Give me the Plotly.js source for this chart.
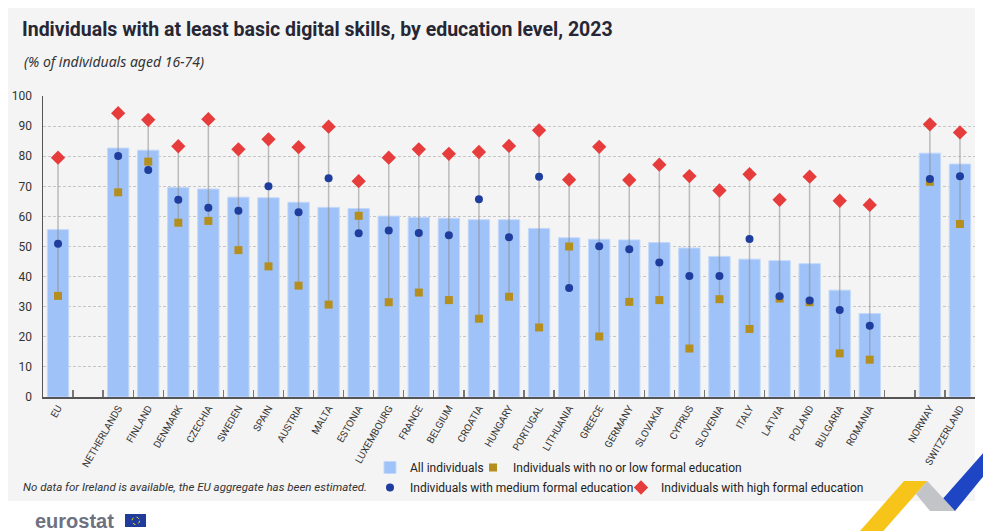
<!DOCTYPE html>
<html>
<head>
<meta charset="utf-8">
<script src="https://cdn.plot.ly/plotly-3.0.1.min.js"></script>
<style>
html,body{margin:0;padding:0;background:#fff;}
#chart{width:983px;height:531px;}
</style>
</head>
<body>
<div id="chart"></div>
<script>
// ---- data ----
const countries = ["EU","NETHERLANDS","FINLAND","DENMARK","CZECHIA","SWEDEN","SPAIN","AUSTRIA","MALTA","ESTONIA","LUXEMBOURG","FRANCE","BELGIUM","CROATIA","HUNGARY","PORTUGAL","LITHUANIA","GREECE","GERMANY","SLOVAKIA","CYPRUS","SLOVENIA","ITALY","LATVIA","POLAND","BULGARIA","ROMANIA","NORWAY","SWITZERLAND"];
const allIndividuals = [55.6,82.7,82.0,69.6,69.1,66.4,66.2,64.7,63.0,62.6,60.1,59.7,59.4,58.9,58.9,56.0,52.9,52.4,52.2,51.3,49.5,46.7,45.8,45.3,44.3,35.5,27.7,81.0,77.4];
const lowEducation    = [33.6,68.0,78.2,57.9,58.5,48.8,43.4,37.0,30.7,60.2,31.5,34.7,32.2,26.0,33.3,23.1,50.0,20.1,31.6,32.2,16.1,32.5,22.6,32.7,31.5,14.5,12.4,71.5,57.5];
const mediumEducation = [50.9,80.1,75.4,65.5,62.9,61.9,70.0,61.4,72.7,54.4,55.3,54.5,53.7,65.7,53.1,73.2,36.2,50.1,49.1,44.7,40.2,40.2,52.5,33.5,32.1,28.9,23.7,72.4,73.3];
const highEducation   = [79.5,94.3,92.1,83.3,92.3,82.3,85.6,83.0,89.8,71.7,79.5,82.3,80.8,81.4,83.4,88.6,72.2,83.1,72.1,77.2,73.4,68.6,74.0,65.5,73.2,65.2,63.8,90.6,87.9];
const axisCategories = ["EU"," "].concat(countries.slice(1,27), ["  "], countries.slice(27));

const seriesNames = ["All individuals","Individuals with no or low formal education","Individuals with medium formal education","Individuals with high formal education"];
const title = "Individuals with at least basic digital skills, by education level, 2023";
const subtitle = "(% of individuals aged 16-74)";
const footnote = "No data for Ireland is available, the EU aggregate has been estimated.";

// ---- helpers for placement (pixel -> paper) ----
const L = 43, R = 975, T = 96, B = 397;
const px = p => (p - L) / (R - L);
const py = p => (B - p) / (B - T);

const mainFont = "Roboto, 'Noto Sans', sans-serif";
const subFont = "'Noto Sans', Roboto, sans-serif";

// connector lines from min to max
const lx = [], ly = [];
countries.forEach((c, i) => {
  const vals = [lowEducation[i], mediumEducation[i], highEducation[i]];
  lx.push(c, c, null);
  ly.push(Math.min(...vals), Math.max(...vals), null);
});

const traces = [
  {type:"bar", x:countries, y:allIndividuals, name:seriesNames[0], legend:"legend",
   marker:{color:"#9fc2f8", line:{color:"#c4d9fa", width:1}}, hoverinfo:"x+y"},
  {type:"scatter", mode:"lines", x:lx, y:ly, showlegend:false, hoverinfo:"skip",
   line:{color:"rgba(140,140,140,0.55)", width:1.5}},
  {type:"scatter", mode:"markers", x:countries, y:lowEducation, name:seriesNames[1], legend:"legend2",
   marker:{symbol:"square", size:8, color:"#b58f1e"}},
  {type:"scatter", mode:"markers", x:countries, y:mediumEducation, name:seriesNames[2], legend:"legend3",
   marker:{symbol:"circle", size:8, color:"#1f3d9d"}},
  {type:"scatter", mode:"markers", x:countries, y:highEducation, name:seriesNames[3], legend:"legend4",
   marker:{symbol:"diamond", size:11, color:"#e63c3c"}}
];

const legendBase = {orientation:"h", xanchor:"left", yanchor:"top", bgcolor:"rgba(0,0,0,0)",
  font:{family:mainFont, size:12, color:"#222"}, itemwidth:30};

const layout = {
  width:983, height:531,
  margin:{l:L, r:983-R, t:T, b:531-B},
  paper_bgcolor:"#ffffff", plot_bgcolor:"rgba(0,0,0,0)",
  bargap:0.29,
  showlegend:true,
  font:{family:mainFont, color:"#333"},
  title:{text:"<b>"+title+"</b>", x:22/983, xanchor:"left", xref:"container",
         y:1-29/531, yanchor:"middle", yref:"container",
         font:{family:mainFont, size:19.5, color:"#262635"}},
  xaxis:{type:"category", categoryorder:"array", categoryarray:axisCategories,
         range:[-0.5, axisCategories.length-0.5], tickangle:-60,
         tickson:"boundaries", ticks:"inside", ticklen:7, tickcolor:"#777", tickwidth:1.3,
         showline:true, linecolor:"#555", linewidth:1.5, showgrid:false,
         tickfont:{family:mainFont, size:10, color:"#333"}},
  yaxis:{range:[0,100], dtick:10, showline:true, linecolor:"#555", linewidth:1.5,
         showgrid:true, gridcolor:"#c6c6c6", griddash:"3px,2px", gridwidth:1,
         zeroline:false, ticks:"", ticklabelstandoff:7,
         tickfont:{family:mainFont, size:12, color:"#333"}},
  legend: Object.assign({}, legendBase, {x:px(370), y:py(453)}),
  legend2: Object.assign({}, legendBase, {x:px(473), y:py(453)}),
  legend3: Object.assign({}, legendBase, {x:px(370), y:py(473)}),
  legend4: Object.assign({}, legendBase, {x:px(621), y:py(473)}),
  annotations:[
    {text:"<i>"+subtitle+"</i>", xref:"paper", yref:"paper", x:px(22), y:py(62),
     xanchor:"left", yanchor:"middle", showarrow:false,
     font:{family:subFont, size:14, color:"#333"}},
    {text:"<i>"+footnote+"</i>", xref:"paper", yref:"paper", x:px(21), y:py(487),
     xanchor:"left", yanchor:"middle", showarrow:false,
     font:{family:mainFont, size:11.5, color:"#333"}},
    {text:"<b>eurostat</b>", xref:"paper", yref:"paper", x:px(33), y:py(521),
     xanchor:"left", yanchor:"middle", showarrow:false,
     font:{family:"'Liberation Sans', Arial, sans-serif", size:20, color:"#6d7180"}}
  ],
  shapes:[
    {type:"rect", xref:"paper", yref:"paper", x0:px(8), x1:px(975), y0:py(501), y1:py(8),
     fillcolor:"#f4f4f4", line:{width:0}, layer:"below"},
    {type:"rect", xref:"paper", yref:"paper", x0:px(125), x1:px(146), y0:py(527), y1:py(514),
     fillcolor:"#1f3c9c", line:{width:0}},
    {type:"circle", xref:"paper", yref:"paper", x0:px(132), x1:px(139.5), y0:py(524.5), y1:py(517),
     fillcolor:"rgba(0,0,0,0)", line:{color:"#f2d21a", width:1, dash:"dot"}},
    {type:"path", xref:"paper", yref:"paper", layer:"above",
     path:`M ${px(904)},${py(481)} L ${px(927.3)},${py(481)} L ${px(883.3)},${py(531)} L ${px(860)},${py(531)} Z`,
     fillcolor:"#f7c51a", line:{width:0}},
    {type:"path", xref:"paper", yref:"paper", layer:"above",
     path:`M ${px(927.3)},${py(481)} L ${px(955)},${py(511)} L ${px(930)},${py(511)} L ${px(916)},${py(494)} Z`,
     fillcolor:"#c3c4c8", line:{width:0}},
    {type:"path", xref:"paper", yref:"paper", layer:"above",
     path:`M ${px(943.3)},${py(498.3)} L ${px(983)},${py(453.3)} L ${px(983)},${py(476.7)} L ${px(955)},${py(511)} Z`,
     fillcolor:"#1d45c4", line:{width:0}}
  ]
};

Plotly.newPlot("chart", traces, layout, {displayModeBar:false, staticPlot:true});
</script>
</body>
</html>
